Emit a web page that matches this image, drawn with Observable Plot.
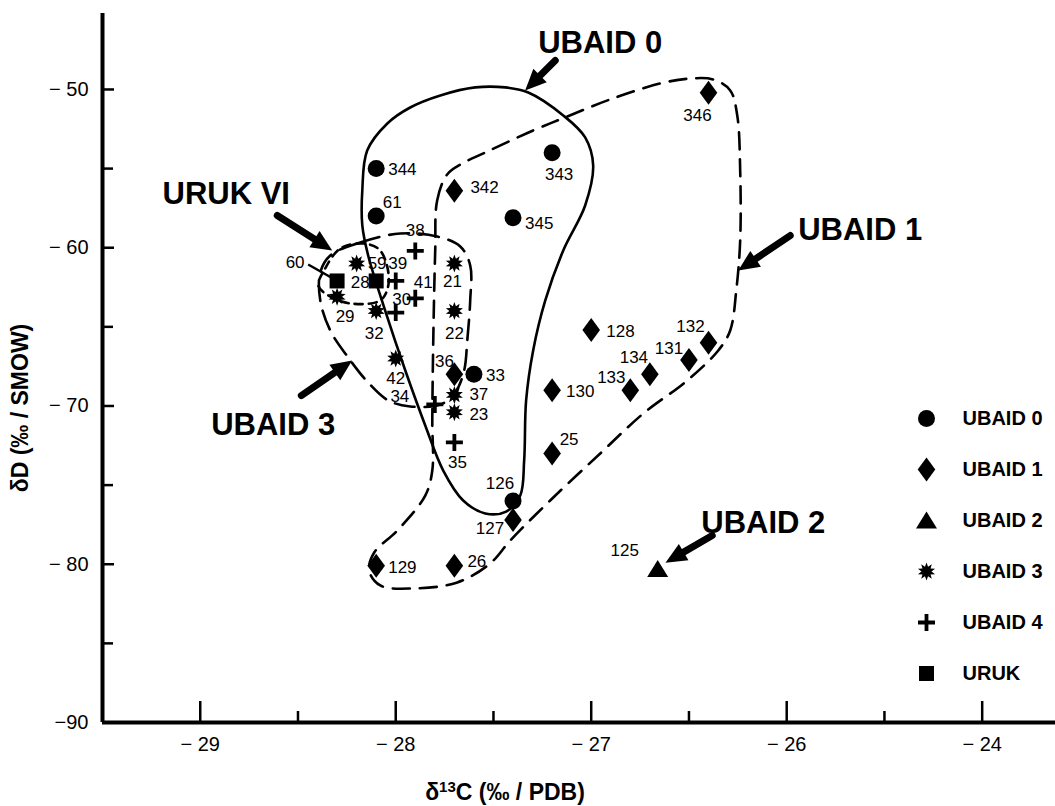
<!DOCTYPE html>
<html>
<head>
<meta charset="utf-8">
<script src="https://cdn.jsdelivr.net/npm/d3@7"></script>
<script src="https://cdn.jsdelivr.net/npm/@observablehq/plot@0.6"></script>
<style>
  html, body { margin: 0; padding: 0; background: #fff; }
  #chart svg { display: block; }
</style>
</head>
<body>
<div id="chart"></div>
<script>
// Samples per phase: [sample, δ13C (‰ PDB), δD (‰ SMOW)]
const ubaid0 = [["344", -28.1, -55.0], ["61", -28.1, -58.0], ["343", -27.2, -54.0], ["345", -27.4, -58.1], ["33", -27.6, -68.0], ["126", -27.4, -76.0]];
const ubaid1 = [["346", -26.4, -50.2], ["342", -27.7, -56.4], ["128", -27.0, -65.2], ["130", -27.2, -69.0], ["133", -26.8, -69.0], ["134", -26.7, -68.0], ["131", -26.5, -67.1], ["132", -26.4, -66.0], ["25", -27.2, -73.0], ["36", -27.7, -68.0], ["127", -27.4, -77.2], ["129", -28.1, -80.1], ["26", -27.7, -80.1]];
const ubaid2 = [["125", -26.66, -80.3]];
const ubaid3 = [["59", -28.2, -61.0], ["29", -28.3, -63.1], ["32", -28.1, -64.0], ["42", -28.0, -67.0], ["21", -27.7, -61.0], ["22", -27.7, -64.0], ["37", -27.7, -69.3], ["23", -27.7, -70.4]];
const ubaid4 = [["38", -27.9, -60.2], ["39", -28.0, -62.1], ["41", -27.9, -63.2], ["30", -28.0, -64.1], ["34", -27.8, -69.9], ["35", -27.7, -72.3]];
const uruk = [["60", -28.3, -62.1], ["28", -28.1, -62.1]];

const phaseNames = ["UBAID 0", "UBAID 1", "UBAID 2", "UBAID 3", "UBAID 4", "URUK"];

// Axis ticks and their printed labels
const xTicks = [-29, -28, -27, -26, -25];
const xTickLabels = ["\u2212 29", "\u2212 28", "\u2212 27", "\u2212 26", "\u2212 24"];
const xMinorTicks = [-28.5, -27.5, -26.5, -25.5];
const yTicks = [-90, -80, -70, -60, -50];
const yTickLabels = ["\u221290", "\u2212 80", "\u2212 70", "\u2212 60", "\u2212 50"];
const yMinorTicks = [-85, -75, -65, -55];

const xDomain = [-29.5, -24.625];
const yDomain = [-90, -45.2];

// Hand-drawn group outlines, [δ13C, δD] control points
const outlineUbaid0 = [[-28.171, -56.38], [-28.146, -53.86], [-28.043, -52.15], [-27.926, -51.14], [-27.772, -50.38], [-27.593, -49.87], [-27.44, -49.87], [-27.322, -50.19], [-27.143, -51.64], [-27.031, -53.03], [-26.99, -54.8], [-27.031, -57.33], [-27.143, -60.17], [-27.235, -63.33], [-27.297, -66.49], [-27.333, -69.65], [-27.343, -73.44], [-27.363, -75.66], [-27.435, -76.67], [-27.542, -76.79], [-27.655, -75.97], [-27.757, -74.08], [-27.849, -71.23], [-27.951, -67.76], [-28.054, -63.97], [-28.141, -60.49], [-28.171, -58.59]];
const outlineUbaid1 = [[-27.798, -60.17], [-27.788, -57.01], [-27.737, -55.37], [-27.66, -54.68], [-27.542, -53.98], [-27.297, -52.59], [-27.123, -51.71], [-26.903, -50.63], [-26.647, -49.62], [-26.494, -49.31], [-26.376, -49.37], [-26.289, -50.06], [-26.253, -51.64], [-26.238, -55.12], [-26.238, -59.54], [-26.258, -62.7], [-26.289, -65.23], [-26.35, -66.49], [-26.509, -68.39], [-26.734, -70.48], [-26.954, -73.0], [-27.21, -75.97], [-27.414, -78.5], [-27.517, -79.95], [-27.685, -81.15], [-27.911, -81.53], [-28.079, -81.34], [-28.136, -80.4], [-28.11, -79.26], [-27.992, -77.87], [-27.849, -75.66], [-27.813, -74.08], [-27.813, -70.92], [-27.808, -65.86]];
const outlineUbaid3 = [[-28.335, -60.49], [-28.182, -59.67], [-27.977, -59.1], [-27.788, -59.29], [-27.67, -59.92], [-27.619, -61.12], [-27.619, -63.33], [-27.634, -65.86], [-27.65, -67.76], [-27.696, -69.15], [-27.772, -69.91], [-27.926, -70.03], [-28.038, -69.65], [-28.141, -68.52], [-28.243, -66.94], [-28.335, -65.23], [-28.386, -63.33], [-28.386, -61.56]];
const outlineUrukVI = [[-28.396, -62.39], [-28.361, -61.31], [-28.284, -60.05], [-28.171, -59.73], [-28.09, -60.05], [-28.049, -60.93], [-28.038, -62.39], [-28.079, -63.33], [-28.233, -63.52], [-28.345, -63.02]];

// Group call-outs: label centre and arrow from tail to head
const callouts = [
  {text: "UBAID 0", x: -26.954, y: -47.09, x1: -27.184, y1: -48.17, x2: -27.338, y2: -50.06},
  {text: "UBAID 1", x: -25.624, y: -58.91, x1: -25.982, y1: -59.23, x2: -26.248, y2: -61.44},
  {text: "UBAID 2", x: -26.12, y: -77.43, x1: -26.381, y1: -78.18, x2: -26.62, y2: -79.9},
  {text: "UBAID 3", x: -28.627, y: -71.23, x1: -28.483, y1: -69.34, x2: -28.223, y2: -67.13},
  {text: "URUK VI", x: -28.867, y: -56.64, x1: -28.606, y1: -57.96, x2: -28.325, y2: -60.17}
];
// Leader from label "60" to its sample
const leader60 = [{x1: -28.448, y1: -61.06, x2: -28.33, y2: -61.88}];

// Where each sample number sits relative to its marker: [dx, dy, anchor]
const labelPlacement = {
  "344": [12, 1, "start"], "61": [16, -14, "middle"], "343": [7, 22, "middle"], "345": [12, 6, "start"],
  "33": [12, 1, "start"], "126": [-13, -17, "middle"], "346": [-11, 23, "middle"], "342": [16, -3, "start"],
  "128": [15, 2, "start"], "130": [14, 1, "start"], "133": [-19, -13, "middle"], "134": [-16, -17, "middle"],
  "131": [-20, -12, "middle"], "132": [-18, -16, "middle"], "25": [17, -14, "middle"], "36": [-10, -13, "middle"],
  "127": [-23, 9, "middle"], "129": [12, 2, "start"], "26": [13, -4, "start"], "125": [-33, -18, "middle"],
  "59": [11, 0, "start"], "29": [8, 20, "middle"], "32": [-2, 23, "middle"], "42": [0, 20, "middle"],
  "21": [-2, 18, "middle"], "22": [0, 23, "middle"], "37": [15, 0, "start"], "23": [15, 2, "start"],
  "38": [0, -20, "middle"], "39": [2, -17, "middle"], "41": [8, -16, "middle"], "30": [6, -13, "middle"],
  "34": [-35, -8, "middle"], "35": [3, 20, "middle"], "60": [-42, -18, "middle"], "28": [-16, 2, "middle"]
};

// Marker shapes (pixel geometry)
const symCircle = {draw(c) { c.moveTo(8.5, 0); c.arc(0, 0, 8.5, 0, 2 * Math.PI); c.closePath(); }};
const symDiamond = {draw(c) { c.moveTo(0, -12); c.lineTo(8.8, 0); c.lineTo(0, 12); c.lineTo(-8.8, 0); c.closePath(); }};
const symTriangle = {draw(c) { c.moveTo(0, -9); c.lineTo(10.5, 8); c.lineTo(-10.5, 8); c.closePath(); }};
const symStar = {draw(c) {
  const n = 10;
  for (let k = 0; k < 2 * n; k++) {
    const a = Math.PI * k / n - Math.PI / 2, rr = k % 2 ? 5 : 9;
    const px = rr * Math.cos(a), py = rr * Math.sin(a);
    if (k) c.lineTo(px, py); else c.moveTo(px, py);
  }
  c.closePath();
}};
const symPlus = {draw(c) {
  const a = 8.5, t = 1.9;
  c.moveTo(-t, -a); c.lineTo(t, -a); c.lineTo(t, -t); c.lineTo(a, -t); c.lineTo(a, t); c.lineTo(t, t);
  c.lineTo(t, a); c.lineTo(-t, a); c.lineTo(-t, t); c.lineTo(-a, t); c.lineTo(-a, -t); c.lineTo(-t, -t); c.closePath();
}};
const symSquare = {draw(c) { c.rect(-7.5, -7.5, 15, 15); }};
// Filled arrowhead, tip at the origin, pointing up before rotation
const symHead = {draw(c) { c.moveTo(0, 0); c.lineTo(9.5, 21); c.lineTo(-9.5, 21); c.closePath(); }};

const series = [ubaid0, ubaid1, ubaid2, ubaid3, ubaid4, uruk];
const symbols = [symCircle, symDiamond, symTriangle, symStar, symPlus, symSquare];

const xLabelOf = new Map(xTicks.map((d, i) => [d, xTickLabels[i]]));
const yLabelOf = new Map(yTicks.map((d, i) => [d, yTickLabels[i]]));

const W = 1055, H = 806;
const marginLeft = 102, marginTop = 13, marginRight = 0, marginBottom = 84;
const font = "'Liberation Sans', Arial, Helvetica, sans-serif";

// Same position scales as the plot, used to aim the arrowheads
const sx = Plot.scale({x: {domain: xDomain, range: [marginLeft, W - marginRight]}});
const sy = Plot.scale({y: {domain: yDomain, range: [H - marginBottom, marginTop]}});
const headAngle = d => {
  const dxp = sx.apply(d.x2) - sx.apply(d.x1), dyp = sy.apply(d.y2) - sy.apply(d.y1);
  return Math.atan2(dxp, -dyp) * 180 / Math.PI;
};

const marks = [];

// Group outlines
const outline = (pts, dash) => Plot.line(pts, {x: d => d[0], y: d => d[1], curve: "catmull-rom-closed", stroke: "black", strokeWidth: 2.6, strokeDasharray: dash});
marks.push(outline(outlineUbaid0, null));
marks.push(outline(outlineUbaid1, "17,10"));
marks.push(outline(outlineUbaid3, "20,10"));
marks.push(outline(outlineUrukVI, "8,6"));

// Frame axes
marks.push(Plot.ruleX([-29.5], {stroke: "black", strokeWidth: 4}));
marks.push(Plot.ruleY([-90], {stroke: "black", strokeWidth: 4}));
marks.push(Plot.axisX(xTicks, {anchor: "top", frameAnchor: "bottom", tickSize: 22, strokeWidth: 2.5, fill: "none", label: null}));
marks.push(Plot.axisX(xMinorTicks, {anchor: "top", frameAnchor: "bottom", tickSize: 12, strokeWidth: 2.5, fill: "none", label: null}));
marks.push(Plot.axisY(yTicks.slice(1), {anchor: "right", frameAnchor: "left", tickSize: 11, strokeWidth: 2.5, fill: "none", label: null}));
marks.push(Plot.axisY(yMinorTicks, {anchor: "right", frameAnchor: "left", tickSize: 10, strokeWidth: 2.5, fill: "none", label: null}));
marks.push(Plot.axisX(xTicks, {anchor: "bottom", tickSize: 0, tickPadding: 14, fontSize: 20, tickFormat: d => xLabelOf.get(d), label: null}));
marks.push(Plot.axisY(yTicks, {anchor: "left", tickSize: 0, tickPadding: 14, fontSize: 20, tickFormat: d => yLabelOf.get(d), label: null}));

// Axis titles
marks.push(Plot.text(["\u03b4D (\u2030 / SMOW)"], {frameAnchor: "left", textAnchor: "middle", lineAnchor: "middle", dx: -82, dy: 40, rotate: -90, fontSize: 23, fontWeight: "bold", text: d => d}));
marks.push(Plot.text(["\u03b413C (\u2030 / PDB)"], {frameAnchor: "bottom", textAnchor: "middle", lineAnchor: "middle", dx: -74, dy: 70, fontSize: 23, fontWeight: "bold", text: d => d, className: "x-title"}));

// Call-out arrows and labels
marks.push(Plot.arrow(callouts, {x1: "x1", y1: "y1", x2: "x2", y2: "y2", stroke: "black", strokeWidth: 7, headLength: 0, insetEnd: 12}));
marks.push(Plot.dot(callouts, {x: "x2", y: "y2", symbol: symHead, r: 10, rotate: headAngle, fill: "black", stroke: "none"}));
marks.push(Plot.text(callouts, {x: "x", y: "y", text: "text", fontSize: 31, fontWeight: "bold"}));
marks.push(Plot.link(leader60, {x1: "x1", y1: "y1", x2: "x2", y2: "y2", stroke: "black", strokeWidth: 2.5}));

// Samples
series.forEach((s, i) => {
  marks.push(Plot.dot(s, {x: d => d[1], y: d => d[2], symbol: symbols[i], r: 8, fill: "black", stroke: "none"}));
});
series.flat().forEach(d => {
  const [dx, dy, anchor] = labelPlacement[d[0]];
  marks.push(Plot.text([d], {x: d => d[1], y: d => d[2], text: d => d[0], dx, dy, textAnchor: anchor, fontSize: 17}));
});

// Legend
phaseNames.forEach((name, i) => {
  const rowY = 418 + i * 51 - marginTop;
  marks.push(Plot.dot([name], {frameAnchor: "top-left", dx: 926 - marginLeft, dy: rowY, symbol: symbols[i], r: 8, fill: "black", stroke: "none"}));
  marks.push(Plot.text([name], {frameAnchor: "top-left", dx: 962 - marginLeft, dy: rowY, text: d => d, textAnchor: "start", lineAnchor: "middle", fontSize: 20, fontWeight: "bold"}));
});

const chart = Plot.plot({
  width: W,
  height: H,
  marginLeft,
  marginRight,
  marginTop,
  marginBottom,
  style: {fontFamily: font, background: "white", color: "black"},
  x: {domain: xDomain, axis: null},
  y: {domain: yDomain, axis: null},
  marks
});

// Set the "13" of δ13C as a superscript
const title = chart.querySelector(".x-title text");
if (title) {
  title.textContent = "";
  const parts = [["\u03b4", null], ["13", "sup"], ["C (\u2030 / PDB)", null]];
  for (const [t, kind] of parts) {
    const span = document.createElementNS("http://www.w3.org/2000/svg", "tspan");
    span.textContent = t;
    if (kind === "sup") { span.setAttribute("font-size", "15"); span.setAttribute("baseline-shift", "super"); }
    title.appendChild(span);
  }
}

document.getElementById("chart").appendChild(chart);
</script>
</body>
</html>
